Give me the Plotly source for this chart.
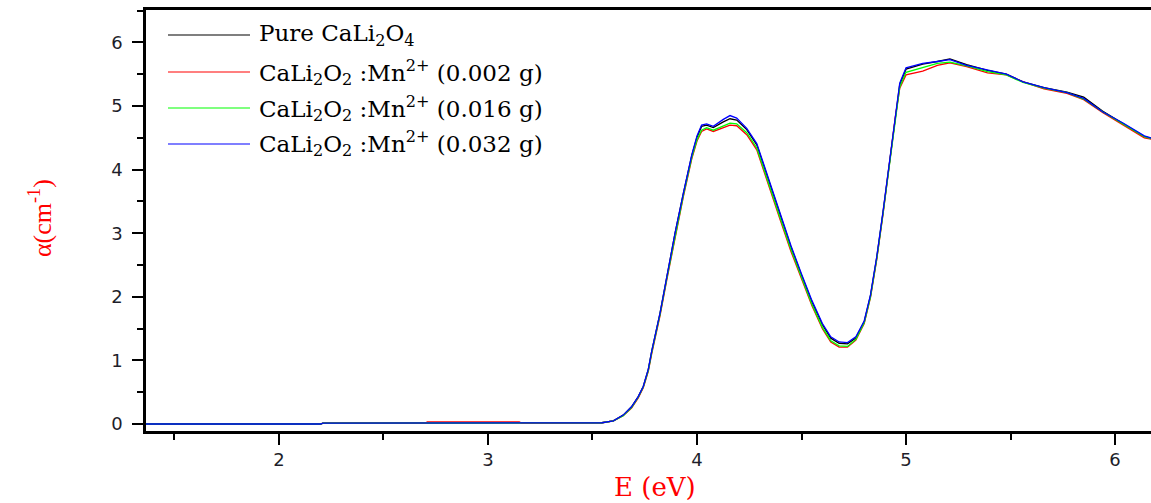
import plotly.graph_objects as go

# Photon energy (eV)
energy = [1.36, 2.2, 2.21, 2.6, 2.61, 2.7, 2.71, 3.15, 3.16, 3.5,
          3.545, 3.6, 3.647, 3.687, 3.719, 3.743, 3.767, 3.783, 3.807, 3.823,
          3.855, 3.895, 3.935, 3.975, 4.0, 4.022, 4.046, 4.078, 4.126, 4.158,
          4.19, 4.238, 4.286, 4.33, 4.37, 4.40, 4.45, 4.50, 4.55, 4.60,
          4.64, 4.68, 4.72, 4.76, 4.80, 4.83, 4.86, 4.89, 4.92, 4.95,
          4.97, 5.0,
          5.08, 5.15, 5.21, 5.29, 5.39, 5.48, 5.56, 5.66, 5.77, 5.85,
          5.94, 6.04, 6.14, 6.2]

pure = [0.0, 0.0, 0.015, 0.015, 0.015, 0.015, 0.015, 0.015, 0.015, 0.015,
        0.02, 0.05, 0.14, 0.27, 0.43, 0.59, 0.86, 1.14, 1.47, 1.74,
        2.30, 3.0, 3.63, 4.22, 4.51, 4.68, 4.70, 4.66, 4.75, 4.80,
        4.78, 4.63, 4.39, 3.95, 3.55, 3.27, 2.78, 2.34, 1.92, 1.56,
        1.35, 1.27, 1.26, 1.35, 1.61, 2.02, 2.62, 3.33, 4.11, 4.89,
        5.34, 5.58,
        5.66, 5.70, 5.74, 5.65, 5.56, 5.50, 5.38, 5.29, 5.22, 5.14,
        4.92, 4.72, 4.52, 4.47]

mn_0002 = [0.0, 0.0, 0.015, 0.015, 0.015, 0.015, 0.035, 0.035, 0.015, 0.015,
           0.02, 0.05, 0.13, 0.25, 0.41, 0.57, 0.83, 1.10, 1.43, 1.70,
           2.26, 2.95, 3.58, 4.17, 4.45, 4.60, 4.64, 4.60, 4.66, 4.70,
           4.69, 4.55, 4.31, 3.87, 3.47, 3.19, 2.71, 2.28, 1.86, 1.50,
           1.29, 1.21, 1.21, 1.32, 1.58, 1.99, 2.59, 3.30, 4.08, 4.85,
           5.28, 5.49,
           5.55, 5.64, 5.68, 5.62, 5.52, 5.49, 5.38, 5.27, 5.20, 5.10,
           4.90, 4.70, 4.50, 4.46]

mn_0016 = [0.0, 0.0, 0.015, 0.015, 0.025, 0.025, 0.025, 0.025, 0.015, 0.015,
           0.02, 0.05, 0.13, 0.26, 0.42, 0.58, 0.84, 1.12, 1.45, 1.72,
           2.28, 2.97, 3.60, 4.19, 4.47, 4.62, 4.66, 4.62, 4.69, 4.73,
           4.72, 4.58, 4.34, 3.90, 3.50, 3.22, 2.74, 2.30, 1.88, 1.52,
           1.31, 1.23, 1.22, 1.33, 1.59, 2.0, 2.60, 3.31, 4.09, 4.86,
           5.30, 5.53,
           5.60, 5.67, 5.69, 5.63, 5.54, 5.49, 5.37, 5.28, 5.21, 5.11,
           4.91, 4.72, 4.52, 4.46]

mn_0032 = [0.0, 0.0, 0.015, 0.015, 0.015, 0.015, 0.015, 0.015, 0.015, 0.015,
           0.02, 0.05, 0.14, 0.27, 0.43, 0.59, 0.86, 1.14, 1.47, 1.74,
           2.30, 3.0, 3.63, 4.23, 4.53, 4.70, 4.72, 4.68, 4.79, 4.85,
           4.81, 4.65, 4.41, 3.97, 3.57, 3.29, 2.80, 2.36, 1.94, 1.58,
           1.37, 1.29, 1.28, 1.37, 1.62, 2.03, 2.63, 3.34, 4.12, 4.90,
           5.36, 5.60,
           5.67, 5.70, 5.73, 5.64, 5.57, 5.50, 5.38, 5.29, 5.21, 5.12,
           4.91, 4.73, 4.53, 4.47]

series_names = [
    "Pure CaLi<sub>2</sub>O<sub>4</sub>",
    "CaLi<sub>2</sub>O<sub>2</sub> :Mn<sup>2+</sup> (0.002 g)",
    "CaLi<sub>2</sub>O<sub>2</sub> :Mn<sup>2+</sup> (0.016 g)",
    "CaLi<sub>2</sub>O<sub>2</sub> :Mn<sup>2+</sup> (0.032 g)",
]
series_values = [pure, mn_0002, mn_0016, mn_0032]
series_colors = ["#000000", "#ff0000", "#00ff00", "#0000ff"]

x_range = [1.364, 6.172]
y_range = [-0.11, 6.51]

W, H = 1151, 503
ML, MR, MT, MB = 146, 0, 10, 72
PW, PH = W - ML - MR, H - MT - MB

fig = go.Figure()
for name, vals, col in zip(series_names, series_values, series_colors):
    fig.add_trace(go.Scatter(x=energy, y=vals, mode="lines", name=name,
                             line=dict(color=col, width=1.3), showlegend=False))

def px_x(px):
    return (px - ML) / PW

def px_y(py):
    return (H - MB - py) / PH

serif = "DejaVu Serif, Liberation Serif, serif"

# custom legend
legend_rows = [35, 72, 108, 144]
shapes = []
annotations = []
for name, col, ry in zip(series_names, series_colors, legend_rows):
    shapes.append(dict(type="line", xref="paper", yref="paper",
                       x0=px_x(168), x1=px_x(250), y0=px_y(ry), y1=px_y(ry),
                       line=dict(color=col, width=1.2)))
    annotations.append(dict(xref="paper", yref="paper", x=px_x(257), y=px_y(ry),
                            xanchor="left", yanchor="middle", showarrow=False,
                            text=name,
                            font=dict(family=serif, size=23, color="#000000")))

annotations.append(dict(xref="paper", yref="paper", x=px_x(655), y=px_y(487),
                        xanchor="center", yanchor="middle", showarrow=False,
                        text="E (eV)",
                        font=dict(family=serif, size=26, color="#ff0000")))
annotations.append(dict(xref="paper", yref="paper", x=px_x(40), y=px_y(218),
                        xanchor="center", yanchor="middle", showarrow=False,
                        textangle=-90, text="\u03b1(cm<sup>-1</sup>)",
                        font=dict(family="Liberation Serif, Times New Roman, serif",
                                  size=26, color="#ff0000")))

tickfont = dict(family="DejaVu Sans, Liberation Sans, sans-serif", size=18, color="#1e1e2a")

fig.update_layout(
    width=W, height=H,
    margin=dict(l=ML, r=MR, t=MT, b=MB),
    plot_bgcolor="white", paper_bgcolor="white",
    shapes=shapes, annotations=annotations,
    xaxis=dict(range=x_range, showgrid=False, zeroline=False,
               showline=True, linecolor="black", linewidth=2.5, mirror=True,
               ticks="outside", ticklen=11, tickwidth=2, tickcolor="black",
               tick0=0, dtick=1, tickfont=tickfont,
               minor=dict(ticks="outside", ticklen=6, tickwidth=2, tickcolor="black", dtick=0.5)),
    yaxis=dict(range=y_range, showgrid=False, zeroline=False,
               showline=True, linecolor="black", linewidth=2.5, mirror=False,
               ticks="outside", ticklen=11, tickwidth=2, tickcolor="black",
               tick0=0, dtick=1, tickfont=tickfont, ticklabelstandoff=6,
               minor=dict(ticks="outside", ticklen=6, tickwidth=2, tickcolor="black", dtick=0.5)),
)

fig.write_html("out.html",
               config={"displayModeBar": False},
               post_script="document.body.style.margin='0';document.body.style.overflow='hidden';")
